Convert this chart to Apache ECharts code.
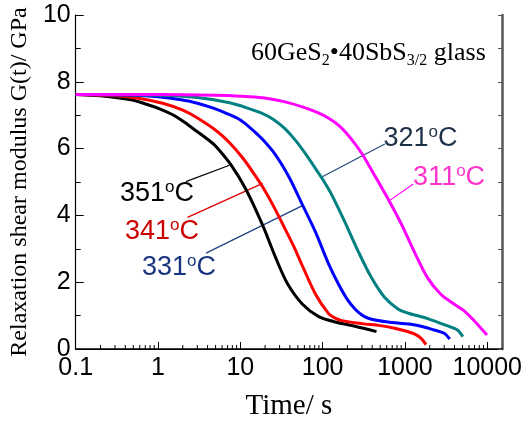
<!DOCTYPE html>
<html>
<head>
<meta charset="utf-8">
<script src="https://cdn.jsdelivr.net/npm/echarts@6/dist/echarts.min.js"></script>
<style>
  html, body { margin: 0; padding: 0; background: #fff; }
  #chart { width: 529px; height: 426px; }
</style>
</head>
<body>
<div id="chart"></div>
<script>
// relaxation curves G(t), one pair of arrays per temperature
const time351 = [0.1, 0.2, 0.47, 0.74, 1.1, 1.55, 2.1, 2.95, 4.3, 5.13, 7.78, 11.8, 18.7, 27, 37.3, 56.5, 89.7, 142, 247, 451];
const mod351  = [7.62, 7.58, 7.46, 7.32, 7.17, 7.0, 6.79, 6.52, 6.22, 6.05, 5.5, 4.76, 3.7, 2.72, 1.96, 1.35, 0.97, 0.81, 0.68, 0.52];

const time341 = [0.1, 0.3, 0.6, 1.17, 2, 2.95, 5.2, 7.5, 10.7, 14, 18.7, 25, 32.5, 44, 56.5, 82, 118, 140, 171, 300, 500, 750, 1050, 1300, 1570, 1800];
const mod341  = [7.62, 7.58, 7.5, 7.35, 7.15, 6.93, 6.52, 6.16, 5.72, 5.32, 4.85, 4.3, 3.75, 3.1, 2.5, 1.64, 1.06, 0.93, 0.85, 0.76, 0.7, 0.62, 0.53, 0.45, 0.32, 0.13];

const time331 = [0.1, 0.5, 1, 1.9, 3, 4.7, 7, 9.8, 13.5, 18.7, 27, 39, 56.5, 82, 118, 156, 200, 247, 300, 358, 450, 620, 1190, 1700, 2260, 2990, 3500];
const mod331  = [7.62, 7.6, 7.55, 7.46, 7.36, 7.21, 7.04, 6.87, 6.6, 6.27, 5.8, 5.15, 4.33, 3.5, 2.55, 1.94, 1.48, 1.2, 1.02, 0.92, 0.86, 0.81, 0.74, 0.66, 0.57, 0.47, 0.3];

const time321 = [0.1, 1, 3, 7.4, 12, 18.7, 25, 34, 46, 63, 82, 100, 130, 187, 272, 393, 568, 822, 1100, 1500, 1884, 2985, 4325, 5050];
const mod321  = [7.62, 7.6, 7.53, 7.37, 7.22, 7.05, 6.88, 6.62, 6.27, 5.82, 5.4, 5.08, 4.6, 3.79, 2.91, 2.13, 1.54, 1.2, 1.07, 0.98, 0.91, 0.73, 0.57, 0.37];

const time311 = [0.1, 1, 5, 10, 18.7, 35, 58, 90, 120, 163, 221, 302, 410, 622, 900, 1300, 1884, 2723, 3937, 5190, 6845, 9910];
const mod311  = [7.62, 7.62, 7.6, 7.57, 7.52, 7.4, 7.24, 7.06, 6.9, 6.66, 6.3, 5.84, 5.28, 4.5, 3.75, 2.91, 2.13, 1.64, 1.35, 1.15, 0.86, 0.42];

// temperature labels (data coords) and their leader lines
const labelTemps = ['351', '341', '331', '321', '311'];
const labelPos = [[0.97, 4.66], [1.12, 3.52], [1.8, 2.43], [1540, 6.3], [3440, 5.13]];
const leaderFrom = [[2.18, 5.01], [2.28, 3.94], [3.83, 2.87], [96.4, 5.14], [655, 4.45]];
const leaderTo = [[7.38, 5.5], [18.7, 4.96], [57.7, 4.3], [569, 6.14], [1262, 4.94]];

const curveColors = ['#000000', '#ff0000', '#0000ff', '#008080', '#ff00ff'];
const labelColors = ['#000000', '#cc0000', '#1a3580', '#1c3048', '#ff33cc'];
const leaderColors = ['#000000', '#dd0000', '#1f3f80', '#2a4a7a', '#ff00ff'];

// minor ticks on the log axis (2..9 per decade)
const minorMult = [2, 3, 4, 5, 6, 7, 8, 9];
const decades = [0.1, 1, 10, 100, 1000];
const minorTicks = [];
decades.forEach(d => minorMult.forEach(m => minorTicks.push([Number((m * d).toPrecision(3)), 0])));

const zip = (xs, ys) => xs.map((x, i) => [x, ys[i]]);
const curves = [zip(time351, mod351), zip(time341, mod341), zip(time331, mod331), zip(time321, mod321), zip(time311, mod311)];

const SANS = '"Liberation Sans", Arial, sans-serif';
const SERIF = '"Liberation Serif", "Times New Roman", serif';

const chart = echarts.init(document.getElementById('chart'));

const isPow10 = v => Math.abs(Math.log10(v) - Math.round(Math.log10(v))) < 1e-6;

const series = [];
curves.forEach((d, i) => {
  series.push({
    type: 'line', data: d, showSymbol: false, smooth: 0.3,
    lineStyle: { color: curveColors[i], width: 3 }, itemStyle: { color: curveColors[i] },
    z: 3, silent: true
  });
});
labelTemps.forEach((t, i) => {
  series.push({
    type: 'line', data: [leaderFrom[i], leaderTo[i]], showSymbol: false,
    lineStyle: { color: leaderColors[i], width: 1.2 }, z: 2, silent: true
  });
});
series.push({
  type: 'scatter', symbolSize: 0, silent: true, z: 4,
  itemStyle: { opacity: 1 },
  data: labelPos.map((p, i) => ({
    value: p, name: labelTemps[i],
    label: { color: labelColors[i], rich: { sup: { fontSize: 17, color: labelColors[i], fontFamily: SANS, verticalAlign: 'top', lineHeight: 19 } } }
  })),
  label: {
    show: true, position: 'inside', fontFamily: SANS, fontSize: 27, lineHeight: 30,
    formatter: p => p.name + '{sup|o}C'
  }
});
series.push({
  type: 'custom', silent: true, z: 5,
  data: minorTicks,
  renderItem: (params, api) => {
    const p = api.coord([api.value(0), 0]);
    return { type: 'line', shape: { x1: p[0], y1: p[1], x2: p[0], y2: p[1] - 4 }, style: { stroke: '#000', lineWidth: 1 } };
  }
});

chart.setOption({
  animation: false,
  title: {
    left: 251, top: 37, padding: 0,
    text: '{m|60GeS}{s|2}{m|•40SbS}{s|3/2}{m| glass}',
    textStyle: {
      fontWeight: 'normal',
      rich: {
        m: { fontFamily: SERIF, fontSize: 26, fontWeight: 'normal', color: '#000', lineHeight: 32 },
        s: { fontFamily: SERIF, fontSize: 16, fontWeight: 'normal', color: '#000', lineHeight: 17, verticalAlign: 'bottom' }
      }
    }
  },
  grid: { left: 71, right: 27, top: 15, bottom: 70, containLabel: false },
  xAxis: [{
    type: 'log', logBase: 10, min: 0.1, max: 15100,
    name: 'Time/ s', nameLocation: 'middle', nameGap: 43,
    nameTextStyle: { fontFamily: SERIF, fontSize: 29, color: '#000' },
    axisLine: { lineStyle: { color: '#000', width: 1.5 } },
    axisTick: { inside: true, length: 7, lineStyle: { color: '#000' } },
    axisLabel: {
      fontFamily: SANS, fontSize: 25, color: '#000', margin: 7, showMaxLabel: false,
      formatter: v => isPow10(v) ? String(Number(v.toPrecision(6))) : ''
    },
    splitLine: { show: false }
  }, {
    type: 'log', logBase: 10, min: 0.1, max: 15100, position: 'top',
    axisLine: { lineStyle: { color: '#000', width: 1 } },
    axisTick: { show: false }, axisLabel: { show: false }, splitLine: { show: false }
  }],
  yAxis: [{
    type: 'value', min: 0, max: 10, interval: 2,
    name: 'Relaxation shear modulus G(t)/ GPa', nameLocation: 'middle', nameGap: 38,
    nameTextStyle: { fontFamily: SERIF, fontSize: 24, color: '#000' },
    axisLine: { show: true, lineStyle: { color: '#000', width: 1.2 } },
    axisTick: { inside: true, length: 8, lineStyle: { color: '#000' } },
    minorTick: { show: true, splitNumber: 2, length: 5, lineStyle: { color: '#000' } },
    axisLabel: { fontFamily: SANS, fontSize: 25, color: '#000', margin: 5 },
    splitLine: { show: false }
  }, {
    type: 'value', min: 0, max: 10, interval: 1, position: 'right',
    axisLine: { show: true, lineStyle: { color: '#555', width: 2.5 } },
    axisTick: { inside: true, length: 4, lineStyle: { color: '#555' } },
    axisLabel: { show: false }, splitLine: { show: false }
  }],
  series: series
});
</script>
</body>
</html>
